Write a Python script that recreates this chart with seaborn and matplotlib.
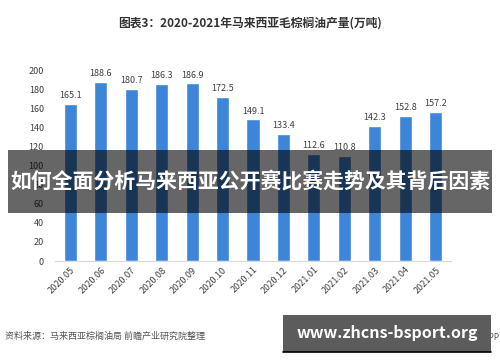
import numpy as np
import pandas as pd
import seaborn as sns
import matplotlib.pyplot as plt
from matplotlib.patches import Rectangle

# données
months = ["2020.05", "2020.06", "2020.07", "2020.08", "2020.09", "2020.10", "2020.11",
          "2020.12", "2021.01", "2021.02", "2021.03", "2021.04", "2021.05"]
production = [165.1, 188.6, 180.7, 186.3, 186.9, 172.5, 149.1,
              133.4, 112.6, 110.8, 142.3, 152.8, 157.2]
y_ticks = [0, 20, 40, 60, 80, 100, 120, 140, 160, 180, 200]

title = "图表3：2020-2021年马来西亚毛棕榈油产量(万吨)"
source = "资料来源：马来西亚棕榈油局 前瞻产业研究院整理"
banner = "如何全面分析马来西亚公开赛比赛走势及其背后因素"
site = "www.zhcns-bsport.org"

df = pd.DataFrame({"mois": months, "production": production})

sns.set_style("white")
plt.rcParams['font.family'] = ['Noto Sans CJK SC', 'DejaVu Sans']

fig = plt.figure(figsize=(5, 3.62), dpi=100)
ax = fig.add_axes([0.11, 0.279, 0.792, 0.525])

sns.barplot(data=df, x="mois", y="production", color="#3d85d8", width=0.43,
            saturation=1, ax=ax)

for i, v in enumerate(production):
    ax.text(i, v + 4, f"{v:.1f}", ha="center", va="bottom", fontsize=6.5,
            color="#404040", clip_on=False)

ax.set_ylim(0, 200)
ax.set_xlim(-0.5, len(months) - 0.5)
ax.set_yticks(y_ticks)
ax.tick_params(axis="y", labelsize=6.5, colors="#404040", length=0, pad=8)
ax.tick_params(axis="x", labelsize=6.5, colors="#404040", length=0, pad=3)
plt.setp(ax.get_xticklabels(), rotation=45, ha="right", rotation_mode="anchor")
ax.set_xlabel("")
ax.set_ylabel("")
for s in ["top", "right", "left"]:
    ax.spines[s].set_visible(False)
ax.spines["bottom"].set_color("#d9d9d9")

fig.text(0.5, 0.936, title, ha="center", va="center", fontsize=8.5,
         fontweight="bold", color="#333333")
fig.text(0.01, 0.072, source, ha="left", va="center", fontsize=6.5, color="#555555")
fig.text(0.999, 0.07, "人APP", ha="right", va="center", fontsize=6,
         color="#555555")

# bandeau sombre
fig.patches.append(Rectangle((0.016, 0.412), 0.968, 0.174, transform=fig.transFigure,
                             facecolor="black", alpha=0.6, edgecolor="none", zorder=5))
fig.text(0.5, 0.499, banner, ha="center", va="center", fontsize=15, fontweight="bold",
         color="white", zorder=6)

# encadré du site
fig.patches.append(Rectangle((0.566, 0.028), 0.416, 0.102, transform=fig.transFigure,
                             facecolor="#5c5c5c", edgecolor="none", zorder=5))
fig.lines.append(plt.Line2D([0.566, 0.982], [0.028, 0.028], transform=fig.transFigure,
                            color="black", lw=1.2, zorder=6))
fig.text(0.774, 0.079, site, ha="center", va="center", fontsize=11.5, fontweight="bold",
         color="white", zorder=6)

plt.savefig("out.png", dpi=100)
